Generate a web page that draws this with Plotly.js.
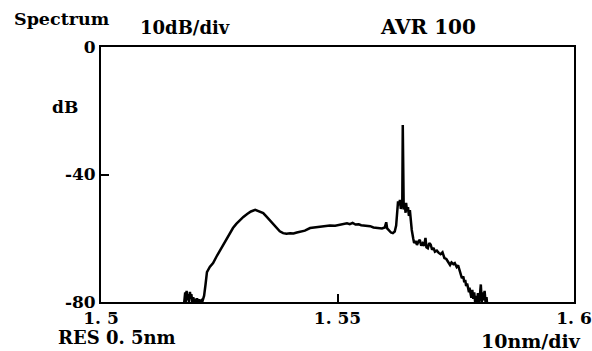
<!DOCTYPE html>
<html>
<head>
<meta charset="utf-8">
<script src="https://cdn.plot.ly/plotly-3.0.1.min.js"></script>
<style>html,body{margin:0;padding:0;background:#fff;}#chart{width:592px;height:351px;}</style>
</head>
<body>
<div id="chart"></div>
<script>
// Wavelength (µm) and power (dB)
const wavelength = [
1.5176,1.5178,1.5179,1.5181,1.5183,1.5185,1.5186,1.5188,1.5190,1.5191,1.5193,1.5195,1.5197,1.5199,1.5201,1.5203,1.5205,1.5207,1.5209,1.5212,1.5214,
1.5218,1.5221,1.5224,1.5230,1.5237,1.5244,1.5252,1.5259,1.5266,1.5273,1.5279,1.5286,1.5294,1.5301,1.5309,1.5317,1.5326,1.5334,1.5343,1.5350,1.5357,1.5365,1.5372,1.5378,1.5385,1.5392,1.5400,1.5407,1.5414,1.5422,1.5431,1.5442,1.5452,1.5463,1.5474,1.5484,1.5495,1.5505,1.5514,1.5520,1.5526,1.5532,1.5538,1.5545,1.5550,1.5556,1.5562,1.5569,1.5576,1.5582,1.5588,1.5594,1.5600,1.5603,1.5605,1.5609,1.5613,1.5617,1.5621,1.5624,1.5626,1.5628,1.5630,1.5632,1.5634,1.5636,1.5637,1.5638,1.5639,1.5640,1.5642,1.5644,1.5645,1.5647,1.5649,1.5651,1.5653,1.5655,1.5657,1.5660,1.5662,1.5665,1.5668,1.5671,1.5674,1.5677,1.5680,1.5683,1.5686,1.5688,1.5691,1.5694,1.5697,1.5700,1.5703,1.5706,1.5710,1.5714,1.5718,1.5722,1.5726,1.5730,1.5734,1.5738,1.5741,1.5745,1.5748,1.5752,1.5755,1.5758,1.5761,1.5763,1.5766,1.5768,1.5770,1.5772,1.5774,1.5776,1.5778,1.5779,1.5781,1.5783,1.5785,1.5787,1.5789,1.5791,1.5793,1.5795,1.5797,1.5799,1.5801,1.5803,1.5805,1.5807,1.5809,1.5811,1.5813,1.5815,1.5816
];
const power = [
-80,-77.0,-80,-76.5,-79.5,-77.5,-80,-76.8,-79.0,-77.5,-80,-78.5,-80,-79.0,-80,-78.8,-80,-79.2,-80,-79.5,-80,
-78.0,-74.5,-70.6,-69.0,-67.8,-65.8,-63.7,-62.0,-60.5,-58.6,-56.8,-55.5,-54.3,-53.3,-52.4,-51.6,-51.1,-51.6,-52.1,-53.2,-54.3,-55.6,-56.8,-57.8,-58.4,-58.6,-58.4,-58.5,-58.2,-58.0,-57.6,-56.8,-56.6,-56.5,-56.2,-56.0,-56.1,-55.8,-55.6,-55.3,-55.6,-55.2,-55.7,-55.6,-55.9,-56.0,-56.3,-56.2,-56.6,-56.7,-56.6,-56.9,-56.6,-55.0,-56.9,-57.6,-58.2,-58.4,-57.9,-56.0,-50.5,-48.4,-49.6,-48.0,-50.8,-49.4,-48.2,-24.5,-49.0,-51.0,-49.5,-52.0,-48.9,-51.5,-50.2,-53.0,-51.2,-55.5,-57.4,-60.0,-61.5,-60.8,-62.1,-61.0,-60.5,-62.3,-61.6,-62.4,-59.9,-62.8,-63.1,-61.5,-62.0,-63.6,-63.0,-64.2,-63.9,-64.6,-65.0,-64.4,-66.2,-66.5,-67.4,-68.4,-67.6,-68.1,-67.8,-69.0,-68.5,-70.2,-71.0,-72.5,-72.0,-73.8,-73.1,-75.0,-74.2,-75.6,-76.9,-75.5,-77.5,-78.7,-76.2,-79.0,-77.0,-80,-78.1,-80,-77.2,-80,-78.1,-74.5,-80,-77.0,-79.5,-76.5,-80,-78.5,-80
];
const xTickVals = [1.5, 1.55, 1.6];
const xTickText = ["1. 5", "1. 55", "1. 6"];
const yTickVals = [0, -40, -80];
const yTickText = ["0", "-40", "-80"];

const serif = "DejaVu Serif, Liberation Serif, serif";
const trace = {
  x: wavelength, y: power, type: "scatter", mode: "lines",
  line: {color: "#000", width: 2.5}, hoverinfo: "skip"
};
const axisCommon = {
  showline: true, mirror: true, linecolor: "#000", linewidth: 2,
  ticks: "inside", ticklen: 8, tickwidth: 2, tickcolor: "#000",
  showgrid: false, zeroline: false, fixedrange: true,
  tickfont: {family: serif, size: 17, color: "#000", weight: "bold"}
};
const layout = {
  width: 592, height: 351,
  margin: {l: 101, r: 18, t: 47, b: 49},
  paper_bgcolor: "#fff", plot_bgcolor: "#fff",
  showlegend: false,
  xaxis: Object.assign({}, axisCommon, {range: [1.5, 1.6], tickmode: "array", tickvals: xTickVals, ticktext: xTickText}),
  yaxis: Object.assign({}, axisCommon, {range: [-80, 0], tickmode: "array", tickvals: yTickVals, ticktext: yTickText}),
  annotations: [
    {text: "<b>Spectrum</b>", xref: "paper", yref: "paper", x: -0.0825, y: 1.110, showarrow: false, xanchor: "center", yanchor: "middle", font: {family: serif, size: 17.5, color: "#000"}},
    {text: "<b>10dB/div</b>", xref: "paper", yref: "paper", x: 0.1776, y: 1.0765, showarrow: false, xanchor: "center", yanchor: "middle", font: {family: serif, size: 18, color: "#000"}},
    {text: "<b>AVR 100</b>", xref: "paper", yref: "paper", x: 0.6913, y: 1.0765, showarrow: false, xanchor: "center", yanchor: "middle", font: {family: serif, size: 20, color: "#000"}},
    {text: "<b>dB</b>", xref: "paper", yref: "paper", x: -0.0761, y: 0.7647, showarrow: false, xanchor: "center", yanchor: "middle", font: {family: serif, size: 17, color: "#000"}},
    {text: "<b>RES 0. 5nm</b>", xref: "paper", yref: "paper", x: 0.0338, y: -0.138, showarrow: false, xanchor: "center", yanchor: "middle", font: {family: serif, size: 18, color: "#000"}},
    {text: "<b>10nm/div</b>", xref: "paper", yref: "paper", x: 0.909, y: -0.153, showarrow: false, xanchor: "center", yanchor: "middle", font: {family: serif, size: 19, color: "#000"}}
  ]
};
Plotly.newPlot("chart", [trace], layout, {displayModeBar: false, staticPlot: true});
</script>
</body>
</html>
